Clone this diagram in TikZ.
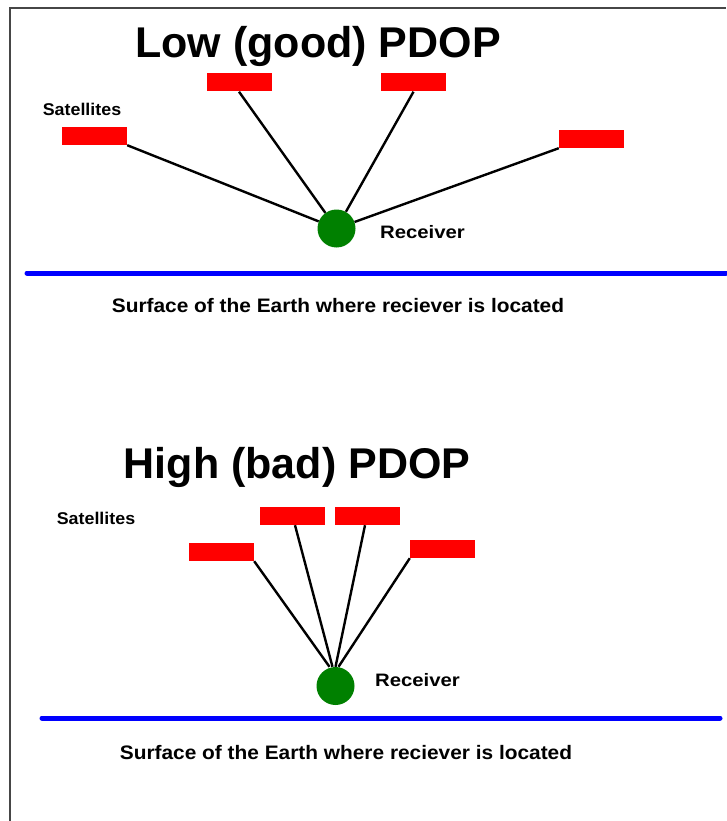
\documentclass[tikz,border=0pt]{standalone}
\usepackage{fontspec}
\setmainfont{Liberation Sans}
\usepackage{graphicx}
\definecolor{satred}{RGB}{255,0,0}
\definecolor{rxgreen}{RGB}{0,128,0}
\definecolor{earthblue}{RGB}{0,0,255}
\definecolor{framegray}{RGB}{70,70,70}
\begin{document}
\begin{tikzpicture}[x=1pt,y=-1pt,
  sat/.style={rectangle,fill=satred,minimum width=65pt,minimum height=18pt,inner sep=0pt},
  rx/.style={circle,fill=rxgreen,minimum size=38pt,inner sep=0pt},
  ray/.style={black,line width=2.4pt},
  ground/.style={earthblue,line width=5pt,line cap=round},
  headline/.style={anchor=base,inner sep=0pt,font=\bfseries\fontsize{43}{50}\selectfont},
  smalllabel/.style={anchor=base,inner sep=0pt,font=\bfseries\fontsize{17}{20}\selectfont},
  rxlabel/.style={anchor=base,inner sep=0pt,font=\bfseries\fontsize{18}{21}\selectfont},
  surflabel/.style={anchor=base,inner sep=0pt,font=\bfseries\fontsize{19.5}{23}\selectfont}]
\useasboundingbox (0,0) rectangle (726,821);
\fill[white] (0,0) rectangle (726,821);
% page frame (left and top edges)
\draw[framegray,line width=1.5pt] (10,821) -- (10,8) -- (726,8);

% ---------- low PDOP ----------
\node[headline] (t1) at (318,58) {Low (good) PDOP};
\node[smalllabel] (sl1) at (82,116) {\scalebox{1.05}[1]{Satellites}};
\node[sat] (s1) at (94.5,136) {};
\node[sat] (s2) at (239,82.5) {};
\node[sat] (s3) at (413.5,82.5) {};
\node[sat] (s4) at (591.5,139) {};
\node[rx] (r1) at (336.5,228.5) {};
\node[rxlabel] (rl1) at (422.5,238) {\scalebox{1.13}[1]{Receiver}};
\draw[ray] (s1.south east) -- (r1);
\draw[ray] (s2.south) -- (r1);
\draw[ray] (s3.south) -- (r1);
\draw[ray] (s4.south west) -- (r1);
\coordinate (g1a) at (27,273);
\coordinate (g1b) at (726,273);
\draw[ground] (g1a) -- (g1b);
\node[surflabel] (e1) at (338,312) {\scalebox{1.07}[1]{Surface of the Earth where reciever is located}};

% ---------- high PDOP ----------
\node[headline] (t2) at (297,478) {High (bad) PDOP};
\node[smalllabel] (sl2) at (96,524) {\scalebox{1.05}[1]{Satellites}};
\node[sat] (a) at (221.5,552) {};
\node[sat] (b) at (292,516) {};
\node[sat] (c) at (367,516) {};
\node[sat] (d) at (442.5,549) {};
\node[rx] (r2) at (335.5,686) {};
\node[rxlabel] (rl2) at (417.5,686) {\scalebox{1.13}[1]{Receiver}};
\draw[ray] (a.south east) -- ([xshift=-6pt]r2.north);
\draw[ray] ([xshift=3pt]b.south) -- ([xshift=-3pt]r2.north);
\draw[ray] ([xshift=-2pt]c.south) -- (r2.north);
\draw[ray] (d.south west) -- ([xshift=3pt]r2.north);
\coordinate (g2a) at (42,718);
\coordinate (g2b) at (720,718);
\draw[ground] (g2a) -- (g2b);
\node[surflabel] (e2) at (346,759) {\scalebox{1.07}[1]{Surface of the Earth where reciever is located}};
\end{tikzpicture}
\end{document}
